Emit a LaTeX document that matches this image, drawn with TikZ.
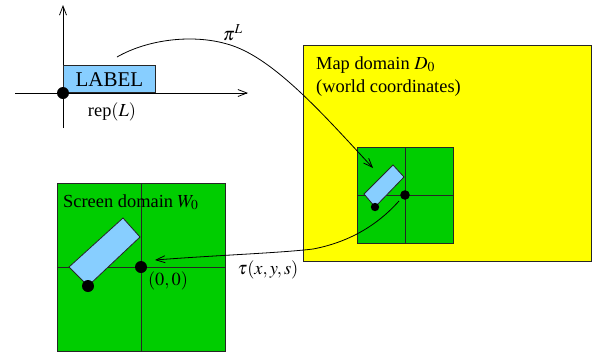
\documentclass[tikz,border=0pt]{standalone}
\usepackage{mathptmx}
\usepackage[no-math]{fontspec}
\setmainfont{Liberation Serif}
\usetikzlibrary{arrows.meta}
\definecolor{ylw}{RGB}{255,255,0}
\definecolor{grn}{RGB}{0,205,0}
\definecolor{lblue}{RGB}{135,206,255}
\tikzset{
  txt/.style={inner sep=0pt, font=\fontsize{18.4}{23}\selectfont},
  bigtxt/.style={inner sep=0pt, font=\fontsize{21}{24}\selectfont},
  edge/.style={draw=black!85, line width=0.8pt},
  conn/.style={draw=black, line width=0.8pt, -{Straight Barb[length=9pt,width=7pt]}},
  dot/.style={fill=black}
}
\begin{document}
\begin{tikzpicture}[x=1pt,y=-1pt]
\useasboundingbox (0,0) rectangle (599,354);
% top-left axes
\coordinate (hx0) at (15,93);
\coordinate (hx1) at (248,93);
\coordinate (vy0) at (63,128);
\coordinate (vy1) at (63,5);
\draw[conn] (hx0) -- (hx1);
\draw[conn] (vy0) -- (vy1);
\node[bigtxt, edge, fill=lblue, minimum width=92pt, minimum height=27pt, anchor=south west] (label) at (63,93) {LABEL};
\fill[dot] (63,93) circle (6);
\node[txt] (rep) at (112,112) {rep$(L)$};
% map domain
\path[edge, fill=ylw] (303,45) rectangle (591,261);
\node[txt, anchor=base west] (map1) at (316,69) {Map domain $D_0$};
\node[txt, anchor=base west] (map2) at (316,92) {(world coordinates)};
\path[edge, fill=grn] (357,147) rectangle (453,243);
\draw[edge] (405,147) -- (405,243);
\draw[edge] (357,195) -- (453,195);
\path[edge, fill=lblue] (364,194) -- (393,165) -- (404,177) -- (375,207) -- cycle;
\fill[dot] (405,195) circle (4.8) coordinate (morig);
\fill[dot] (375,207) circle (4.2);
% screen domain
\path[edge, fill=grn] (57,183) rectangle (225,351);
\draw[edge] (141,183) -- (141,351);
\draw[edge] (57,267) -- (225,267);
\node[txt, anchor=base west] (scr) at (63,207) {Screen domain $W_0$};
\path[edge, fill=lblue] (69,267) -- (123,218) -- (140,237) -- (88,286) -- cycle;
\fill[dot] (141,267) circle (6) coordinate (sorig);
\fill[dot] (88,286) circle (6);
\node[txt] (zero) at (168,281) {$(0,0)$};
% connectors
\coordinate (piS) at (117,57);
\coordinate (piM) at (236,47);
\coordinate (piE) at (373,168);
\draw[conn] (piS) .. controls (150,38) and (200,33) .. (piM)
  .. controls (280,64) and (330,122) .. (piE);
\node[txt] (pilab) at (233,33) {$\pi^L$};
\coordinate (tS) at (399,201);
\coordinate (tM) at (313,249);
\coordinate (tE) at (155,260);
\draw[conn] (tS) .. controls (375,228) and (345,243) .. (tM)
  .. controls (280,253) and (220,255) .. (tE);
\node[txt] (taulab) at (268,270) {$\tau(x,y,s)$};
\end{tikzpicture}
\end{document}
